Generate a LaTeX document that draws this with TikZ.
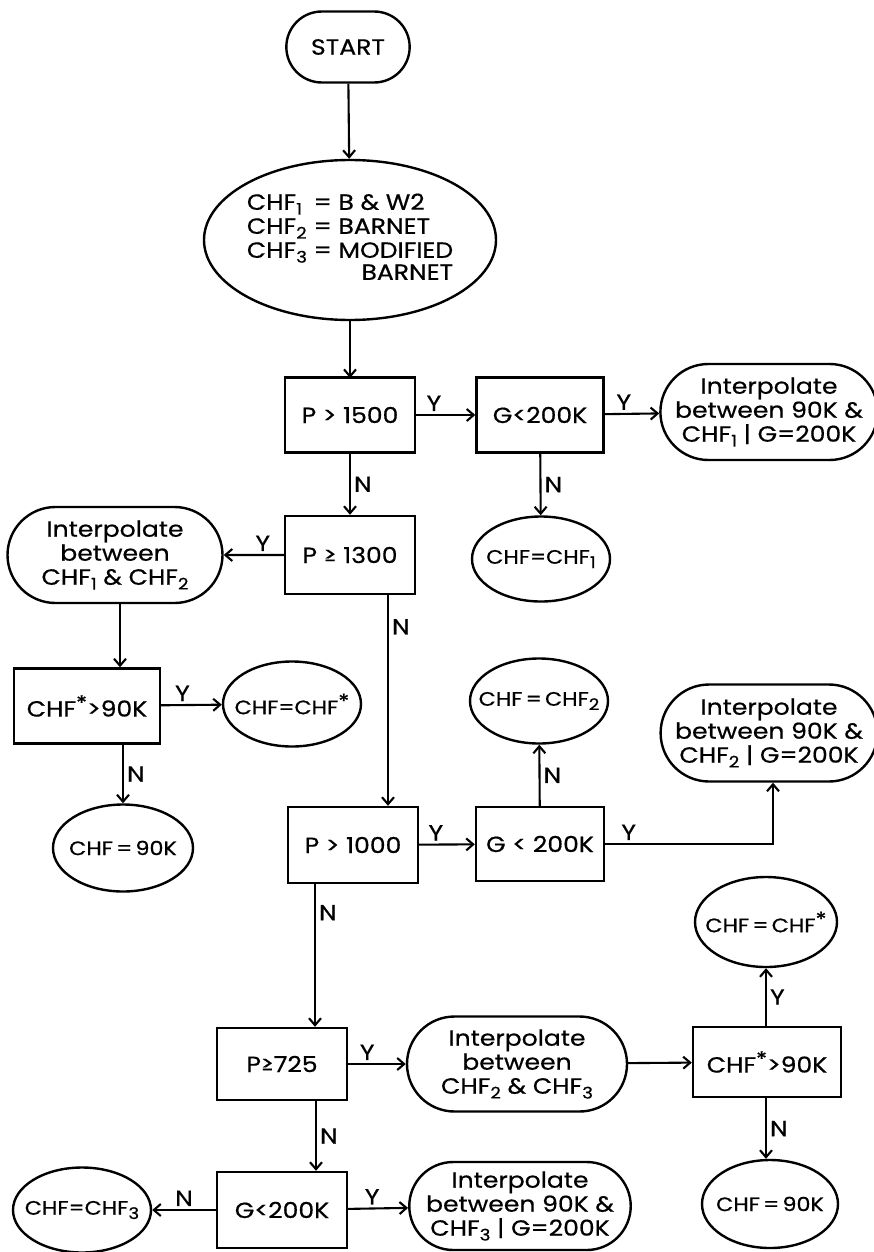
\documentclass[tikz,border=0pt]{standalone}
\usepackage{fontspec}
\setmainfont{Poppins}[FakeStretch=1.14, FakeBold=0.6]
\usetikzlibrary{arrows.meta,shapes.geometric,shapes.misc,positioning}
\newcommand{\chf}[1]{CHF\raisebox{-0.4ex}{\fontsize{16}{16}\selectfont #1}}
\newcommand{\chfstar}{CHF\raisebox{0.55ex}{\fontsize{20}{20}\selectfont *}}
% result texts are centred without widening their ellipse
\newcommand{\restext}[1]{\makebox[0pt]{#1}}
\tikzset{
    flow chart/.style = {>={Straight Barb[length=7pt,width=12pt]},
                         font=\fontsize{22}{24}\selectfont},
    line/.style       = {line width=2.1pt},
    test/.style       = {draw, line width=2.4pt, minimum width=130pt,
                         minimum height=75pt, inner sep=0pt},
    outcome/.style    = {draw, line width=2.4pt, ellipse, minimum width=138pt,
                         minimum height=85pt, inner sep=0pt,
                         font=\fontsize{19.5}{24}\selectfont},
    interp/.style     = {draw, line width=2.4pt, rounded rectangle,
                         minimum width=212pt, minimum height=95pt,
                         inner sep=0pt, align=center},
    yes/.style        = {above, inner sep=3pt},
    no/.style         = {right, inner sep=3pt}
}

\begin{document}
\begin{tikzpicture}[flow chart, x=1pt, y=-1pt]
\useasboundingbox (0,0) rectangle (873,1252);

% Start and the three correlations.
\node[draw, line width=2.4pt, rounded rectangle, minimum width=130pt,
      minimum height=71pt] (start) at (348,47) {START};
\node[draw, line width=2.4pt, ellipse, minimum width=292pt,
      minimum height=160pt, inner sep=0pt] (defs) at (350,240)
    {\begin{tabular}{@{}l@{ = }l@{}}
        \chf{1} & B \& W2\\
        \chf{2} & BARNET\\
        \chf{3} & MODIFIED\\[-2pt]
        \multicolumn{2}{@{}r@{}}{BARNET\hspace{4pt}}
     \end{tabular}};
\draw[->, line] (start) -- (defs);
\draw[->, line] (defs) -- (defs.south |- 0,378);

% High pressure branch.
\node[test] (p1500) at (350,415) {P > 1500};
\node[test, minimum width=127pt] (g1) at (540,415) {G<200K};
\node[interp, minimum width=207pt, minimum height=96pt] (interp1)
    at (769,412) {Interpolate\\between 90K \&\\\chf{1} | G=200K};
\node[outcome] (chf1) at (541,559) {\restext{CHF=\chf{1}}};
\draw[->, line] (p1500) -- node[yes, pos=0.3] {Y} (g1);
\draw[->, line] (g1) -- node[yes, pos=0.35] {Y} (interp1);
\draw[->, line] (g1) -- node[no] {N} (chf1);

% 1300 < P < 1500.
\node[test, minimum height=78pt] (p1300) at (350,555) {P ≥ 1300};
\node[interp, minimum width=215pt, minimum height=96pt] (interp12)
    at (115,555) {Interpolate\\between\\\chf{1} \& \chf{2}};
\node[test, minimum width=146pt] (star1) at (87,706) {\chfstar>90K};
\node[outcome] (cstar1) at (292,704) {\restext{CHF=\chfstar}};
\node[outcome, minimum width=140pt, minimum height=87pt] (c90a)
    at (123,848) {\restext{CHF\,=\,90K}};
\draw[->, line] (p1500) -- node[no] {N} (p1300);
\draw[->, line] (p1300) -- node[yes, pos=0.35] {Y} (interp12);
\draw[->, line] (interp12.south -| 120,0) -- (star1.north -| 120,0);
\draw[->, line] (star1) -- node[yes, pos=0.35] {Y} (cstar1);
\draw[->, line] (star1.south -| c90a.north) -- node[no] {N} (c90a);

% 1000 < P < 1300.
\node[test, minimum height=76pt] (p1000) at (353,845) {P > 1000};
\node[test, minimum width=128pt, minimum height=74pt] (g2)
    at (540,844) {G < 200K};
\node[outcome] (chf2) at (539,701) {\restext{CHF\,=\,\chf{2}}};
\node[interp, minimum width=206pt, minimum height=97pt] (interp2)
    at (769,733) {Interpolate\\between 90K \&\\\chf{2} | G=200K};
\draw[->, line] (p1300.south -| 388,0) -- node[no, pos=0.15] {N}
    (p1000.north -| 388,0);
\draw[->, line] (p1000) -- node[yes, pos=0.3] {Y} (g2);
\draw[->, line] (g2) -- node[no] {N} (chf2);
\draw[->, line] (g2.east) -| node[yes, pos=0.07] {Y}
    (interp2.south -| 773,0);

% 725 < P < 1000.
\node[test, minimum height=72pt] (p725) at (282,1064) {P≥725};
\node[interp, minimum width=220pt] (interp23)
    at (517,1064) {Interpolate\\between\\\chf{2} \& \chf{3}};
\node[test, minimum width=148pt, minimum height=70pt] (star2)
    at (767,1062) {\chfstar>90K};
\node[outcome, minimum width=142pt, minimum height=90pt] (cstar2)
    at (766,922) {\restext{CHF\,=\,\chfstar}};
\node[outcome, minimum width=136pt, minimum height=88pt] (c90b)
    at (770,1204) {\restext{CHF\,=\,90K}};
\draw[->, line] (p1000.south -| 315,0) -- node[no, pos=0.2] {N}
    (p725.north -| 315,0);
\draw[->, line] (p725) -- node[yes, pos=0.33] {Y} (interp23);
\draw[->, line] (interp23) -- (star2);
\draw[->, line] (star2.north -| cstar2.south) -- node[no] {Y} (cstar2);
\draw[->, line] (star2.south -| cstar2.south) -- node[no] {N}
    (c90b.north -| cstar2.south);

% P < 725.
\node[test, minimum height=76pt] (g3) at (282,1210) {G<200K};
\node[outcome] (chf3) at (82,1210) {\restext{CHF=\chf{3}}};
\node[interp, minimum width=215pt, minimum height=88pt] (interp3)
    at (520,1206) {Interpolate\\between 90K \&\\\chf{3} | G=200K};
\draw[->, line] (p725.south -| 316,0) -- node[no] {N} (g3.north -| 316,0);
\draw[->, line] (g3) -- node[yes] {N} (chf3);
\draw[->, line] (g3) -- node[yes, pos=0.4] {Y} (interp3);

\end{tikzpicture}
\end{document}
